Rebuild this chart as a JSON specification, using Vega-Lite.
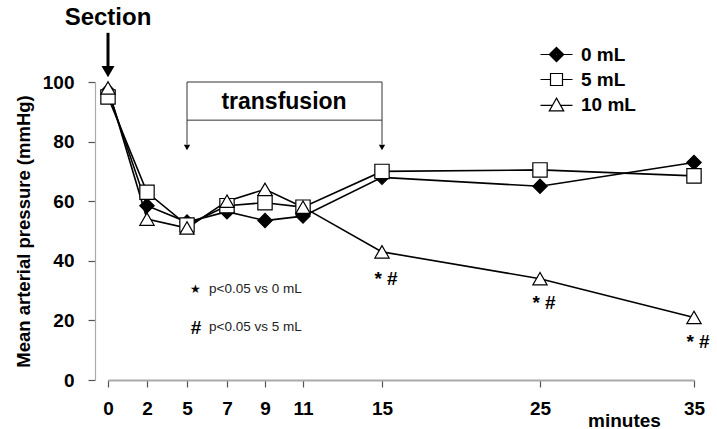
{
  "$schema": "https://vega.github.io/schema/vega-lite/v6.json",
  "width": 600,
  "height": 298,
  "autosize": {"type": "none"},
  "padding": {"left": 95, "top": 82, "right": 22, "bottom": 49},
  "background": "white",
  "config": {"view": {"stroke": null}, "font": "Liberation Sans"},
  "datasets": {
    "series": [
      {"t": 0, "v": 97, "g": "0 mL"},
      {"t": 2, "v": 58.5, "g": "0 mL"},
      {"t": 5, "v": 53, "g": "0 mL"},
      {"t": 7, "v": 56.5, "g": "0 mL"},
      {"t": 9, "v": 53.5, "g": "0 mL"},
      {"t": 11, "v": 55, "g": "0 mL"},
      {"t": 15, "v": 68, "g": "0 mL"},
      {"t": 25, "v": 65, "g": "0 mL"},
      {"t": 35, "v": 73, "g": "0 mL"},
      {"t": 0, "v": 95, "g": "5 mL"},
      {"t": 2, "v": 63, "g": "5 mL"},
      {"t": 5, "v": 52, "g": "5 mL"},
      {"t": 7, "v": 58.5, "g": "5 mL"},
      {"t": 9, "v": 59.5, "g": "5 mL"},
      {"t": 11, "v": 58, "g": "5 mL"},
      {"t": 15, "v": 70, "g": "5 mL"},
      {"t": 25, "v": 70.5, "g": "5 mL"},
      {"t": 35, "v": 68.5, "g": "5 mL"},
      {"t": 0, "v": 98, "g": "10 mL"},
      {"t": 2, "v": 54, "g": "10 mL"},
      {"t": 5, "v": 51, "g": "10 mL"},
      {"t": 7, "v": 60, "g": "10 mL"},
      {"t": 9, "v": 64, "g": "10 mL"},
      {"t": 11, "v": 58, "g": "10 mL"},
      {"t": 15, "v": 43, "g": "10 mL"},
      {"t": 25, "v": 34, "g": "10 mL"},
      {"t": 35, "v": 21, "g": "10 mL"}
    ],
    "box": [
      {"t": 5, "v": 100, "t2": 15, "v2": 100},
      {"t": 5, "v": 87.2, "t2": 15, "v2": 87.2},
      {"t": 5, "v": 100, "t2": 5, "v2": 79},
      {"t": 15, "v": 100, "t2": 15, "v2": 79}
    ],
    "boxHeads": [{"t": 5, "v": 78}, {"t": 15, "v": 78}],
    "sectionShaft": [{"t": 0, "v": 116.5, "t2": 0, "v2": 105}],
    "sectionHead": [{"t": 0, "v": 103.5}],
    "sectionText": [{"t": 0, "v": 121.5, "label": "Section"}],
    "transText": [{"t": 10, "v": 93.4, "label": "transfusion"}],
    "starNote": [{"t": 5.42, "v": 30.6, "label": "★"}],
    "hashNote": [{"t": 5.45, "v": 17.6, "label": "#"}],
    "pNotes": [
      {"t": 6.1, "v": 30.6, "label": "p<0.05 vs 0 mL"},
      {"t": 6.1, "v": 17.9, "label": "p<0.05 vs 5 mL"}
    ],
    "sig": [
      {"t": 15, "v": 33.9, "label": "* #"},
      {"t": 25, "v": 25.8, "label": "* #"},
      {"t": 35, "v": 12.8, "label": "* #"}
    ]
  },
  "encoding": {
    "x": {
      "field": "t",
      "type": "quantitative",
      "scale": {
        "domain": [0, 2, 5, 7, 9, 11, 15, 25, 35],
        "range": [13, 52, 92, 132, 170, 208, 287, 445, 599],
        "nice": false,
        "zero": false
      },
      "axis": {
        "values": [0, 2, 5, 7, 9, 11, 15, 25, 35],
        "title": "minutes",
        "titleX": 529,
        "titleY": 40,
        "titleAnchor": null,
        "titleAlign": "center",
        "titleBaseline": "middle",
        "titleFont": "Liberation Sans",
        "titleFontSize": 19,
        "titleFontWeight": "bold",
        "titleColor": "black",
        "labelFont": "Liberation Sans",
        "labelFontSize": 19,
        "labelFontWeight": "bold",
        "labelColor": "black",
        "labelPadding": 12,
        "labelFlush": false,
        "labelOverlap": false,
        "tickSize": 7,
        "tickColor": "#555",
        "tickWidth": 1.2,
        "domainColor": "#aaa",
        "domainWidth": 2,
        "grid": false
      }
    },
    "y": {
      "field": "v",
      "type": "quantitative",
      "scale": {"domain": [0, 100], "nice": false, "zero": true},
      "axis": {
        "values": [0, 20, 40, 60, 80, 100],
        "title": "Mean arterial pressure (mmHg)",
        "titleX": -72,
        "titleY": 149,
        "titleAngle": -90,
        "titleAnchor": null,
        "titleAlign": "center",
        "titleBaseline": "middle",
        "titleFont": "Liberation Sans",
        "titleFontSize": 18.5,
        "titleFontWeight": "bold",
        "titleColor": "black",
        "labelFont": "Liberation Sans",
        "labelFontSize": 19,
        "labelFontWeight": "bold",
        "labelColor": "black",
        "labelPadding": 14,
        "labelFlush": false,
        "tickSize": 7,
        "tickColor": "#555",
        "tickWidth": 1.2,
        "domainColor": "#aaa",
        "domainWidth": 1.2,
        "grid": false
      }
    }
  },
  "resolve": {"scale": {"shape": "independent"}, "legend": {"shape": "independent"}},
  "layer": [
    {
      "data": {"name": "box"},
      "mark": {"type": "rule", "color": "#333", "strokeWidth": 1},
      "encoding": {"x2": {"field": "t2"}, "y2": {"field": "v2"}}
    },
    {
      "data": {"name": "boxHeads"},
      "mark": {"type": "point", "shape": "triangle-down", "filled": true, "color": "black", "size": 40, "opacity": 1},
      "encoding": {}
    },
    {
      "data": {"name": "sectionShaft"},
      "mark": {"type": "rule", "color": "black", "strokeWidth": 3},
      "encoding": {"x2": {"field": "t2"}, "y2": {"field": "v2"}}
    },
    {
      "data": {"name": "sectionHead"},
      "mark": {"type": "point", "shape": "triangle-down", "filled": true, "color": "black", "size": 170, "opacity": 1},
      "encoding": {}
    },
    {
      "data": {"name": "series"},
      "mark": {"type": "line", "color": "black", "strokeWidth": 1.6},
      "encoding": {"detail": {"field": "g"}}
    },
    {
      "data": {"name": "series"},
      "mark": {"type": "point", "filled": true, "stroke": "black", "strokeWidth": 1.2, "opacity": 1, "size": 205},
      "encoding": {
        "shape": {
          "field": "g",
          "type": "nominal",
          "scale": {"domain": ["0 mL", "5 mL", "10 mL"], "range": ["diamond", "square", "triangle-up"]},
          "legend": null
        },
        "fill": {
          "field": "g",
          "type": "nominal",
          "scale": {"domain": ["0 mL", "5 mL", "10 mL"], "range": ["black", "white", "white"]},
          "legend": null
        }
      }
    },
    {
      "data": {"name": "series"},
      "transform": [{"filter": "false"}],
      "mark": {"type": "point", "filled": false, "color": "black", "strokeWidth": 1.2, "opacity": 1},
      "encoding": {
        "shape": {
          "field": "g",
          "type": "nominal",
          "scale": {
            "domain": ["0 mL", "5 mL", "10 mL"],
            "range": [
              "M-2,0L-0.9,0M0.9,0L2,0M0,-0.9L0.9,0L0,0.9L-0.9,0ZM0,-0.75L0.75,0L0,0.75L-0.75,0ZM0,-0.6L0.6,0L0,0.6L-0.6,0ZM0,-0.45L0.45,0L0,0.45L-0.45,0ZM0,-0.3L0.3,0L0,0.3L-0.3,0ZM0,-0.15L0.15,0L0,0.15L-0.15,0Z",
              "M-2,0L-0.75,0M0.75,0L2,0M-0.75,-0.75L0.75,-0.75L0.75,0.75L-0.75,0.75Z",
              "M-2,0.1L-0.5,0.1M0.5,0.1L2,0.1M0,-0.8L0.9,0.8L-0.9,0.8Z"
            ]
          },
          "legend": {
            "title": null,
            "orient": "none",
            "legendX": 452,
            "legendY": -37,
            "padding": 0,
            "symbolSize": 256,
            "symbolStrokeWidth": 1.2,
            "symbolStrokeColor": "black",
            "symbolFillColor": "transparent",
            "labelFont": "Liberation Sans",
            "labelFontSize": 19,
            "labelFontWeight": "bold",
            "labelColor": "black",
            "labelOffset": 15,
            "rowPadding": 5
          }
        }
      }
    },
    {
      "data": {"name": "sectionText"},
      "mark": {"type": "text", "font": "Liberation Sans", "fontSize": 24, "fontWeight": "bold", "color": "black", "align": "center", "baseline": "middle"},
      "encoding": {"text": {"field": "label"}}
    },
    {
      "data": {"name": "transText"},
      "mark": {"type": "text", "font": "Liberation Sans", "fontSize": 23, "fontWeight": "bold", "color": "black", "align": "center", "baseline": "middle"},
      "encoding": {"text": {"field": "label"}}
    },
    {
      "data": {"name": "starNote"},
      "mark": {"type": "text", "font": "DejaVu Sans", "fontSize": 12, "color": "black", "align": "center", "baseline": "middle"},
      "encoding": {"text": {"field": "label"}}
    },
    {
      "data": {"name": "hashNote"},
      "mark": {"type": "text", "font": "Liberation Sans", "fontSize": 19, "fontWeight": "bold", "color": "black", "align": "center", "baseline": "middle"},
      "encoding": {"text": {"field": "label"}}
    },
    {
      "data": {"name": "pNotes"},
      "mark": {"type": "text", "font": "Liberation Sans", "fontSize": 13.5, "color": "#222", "align": "left", "baseline": "middle"},
      "encoding": {"text": {"field": "label"}}
    },
    {
      "data": {"name": "sig"},
      "mark": {"type": "text", "font": "Liberation Sans", "fontSize": 19, "fontWeight": "bold", "color": "black", "align": "center", "baseline": "middle", "dx": 4},
      "encoding": {"text": {"field": "label"}}
    }
  ]
}
